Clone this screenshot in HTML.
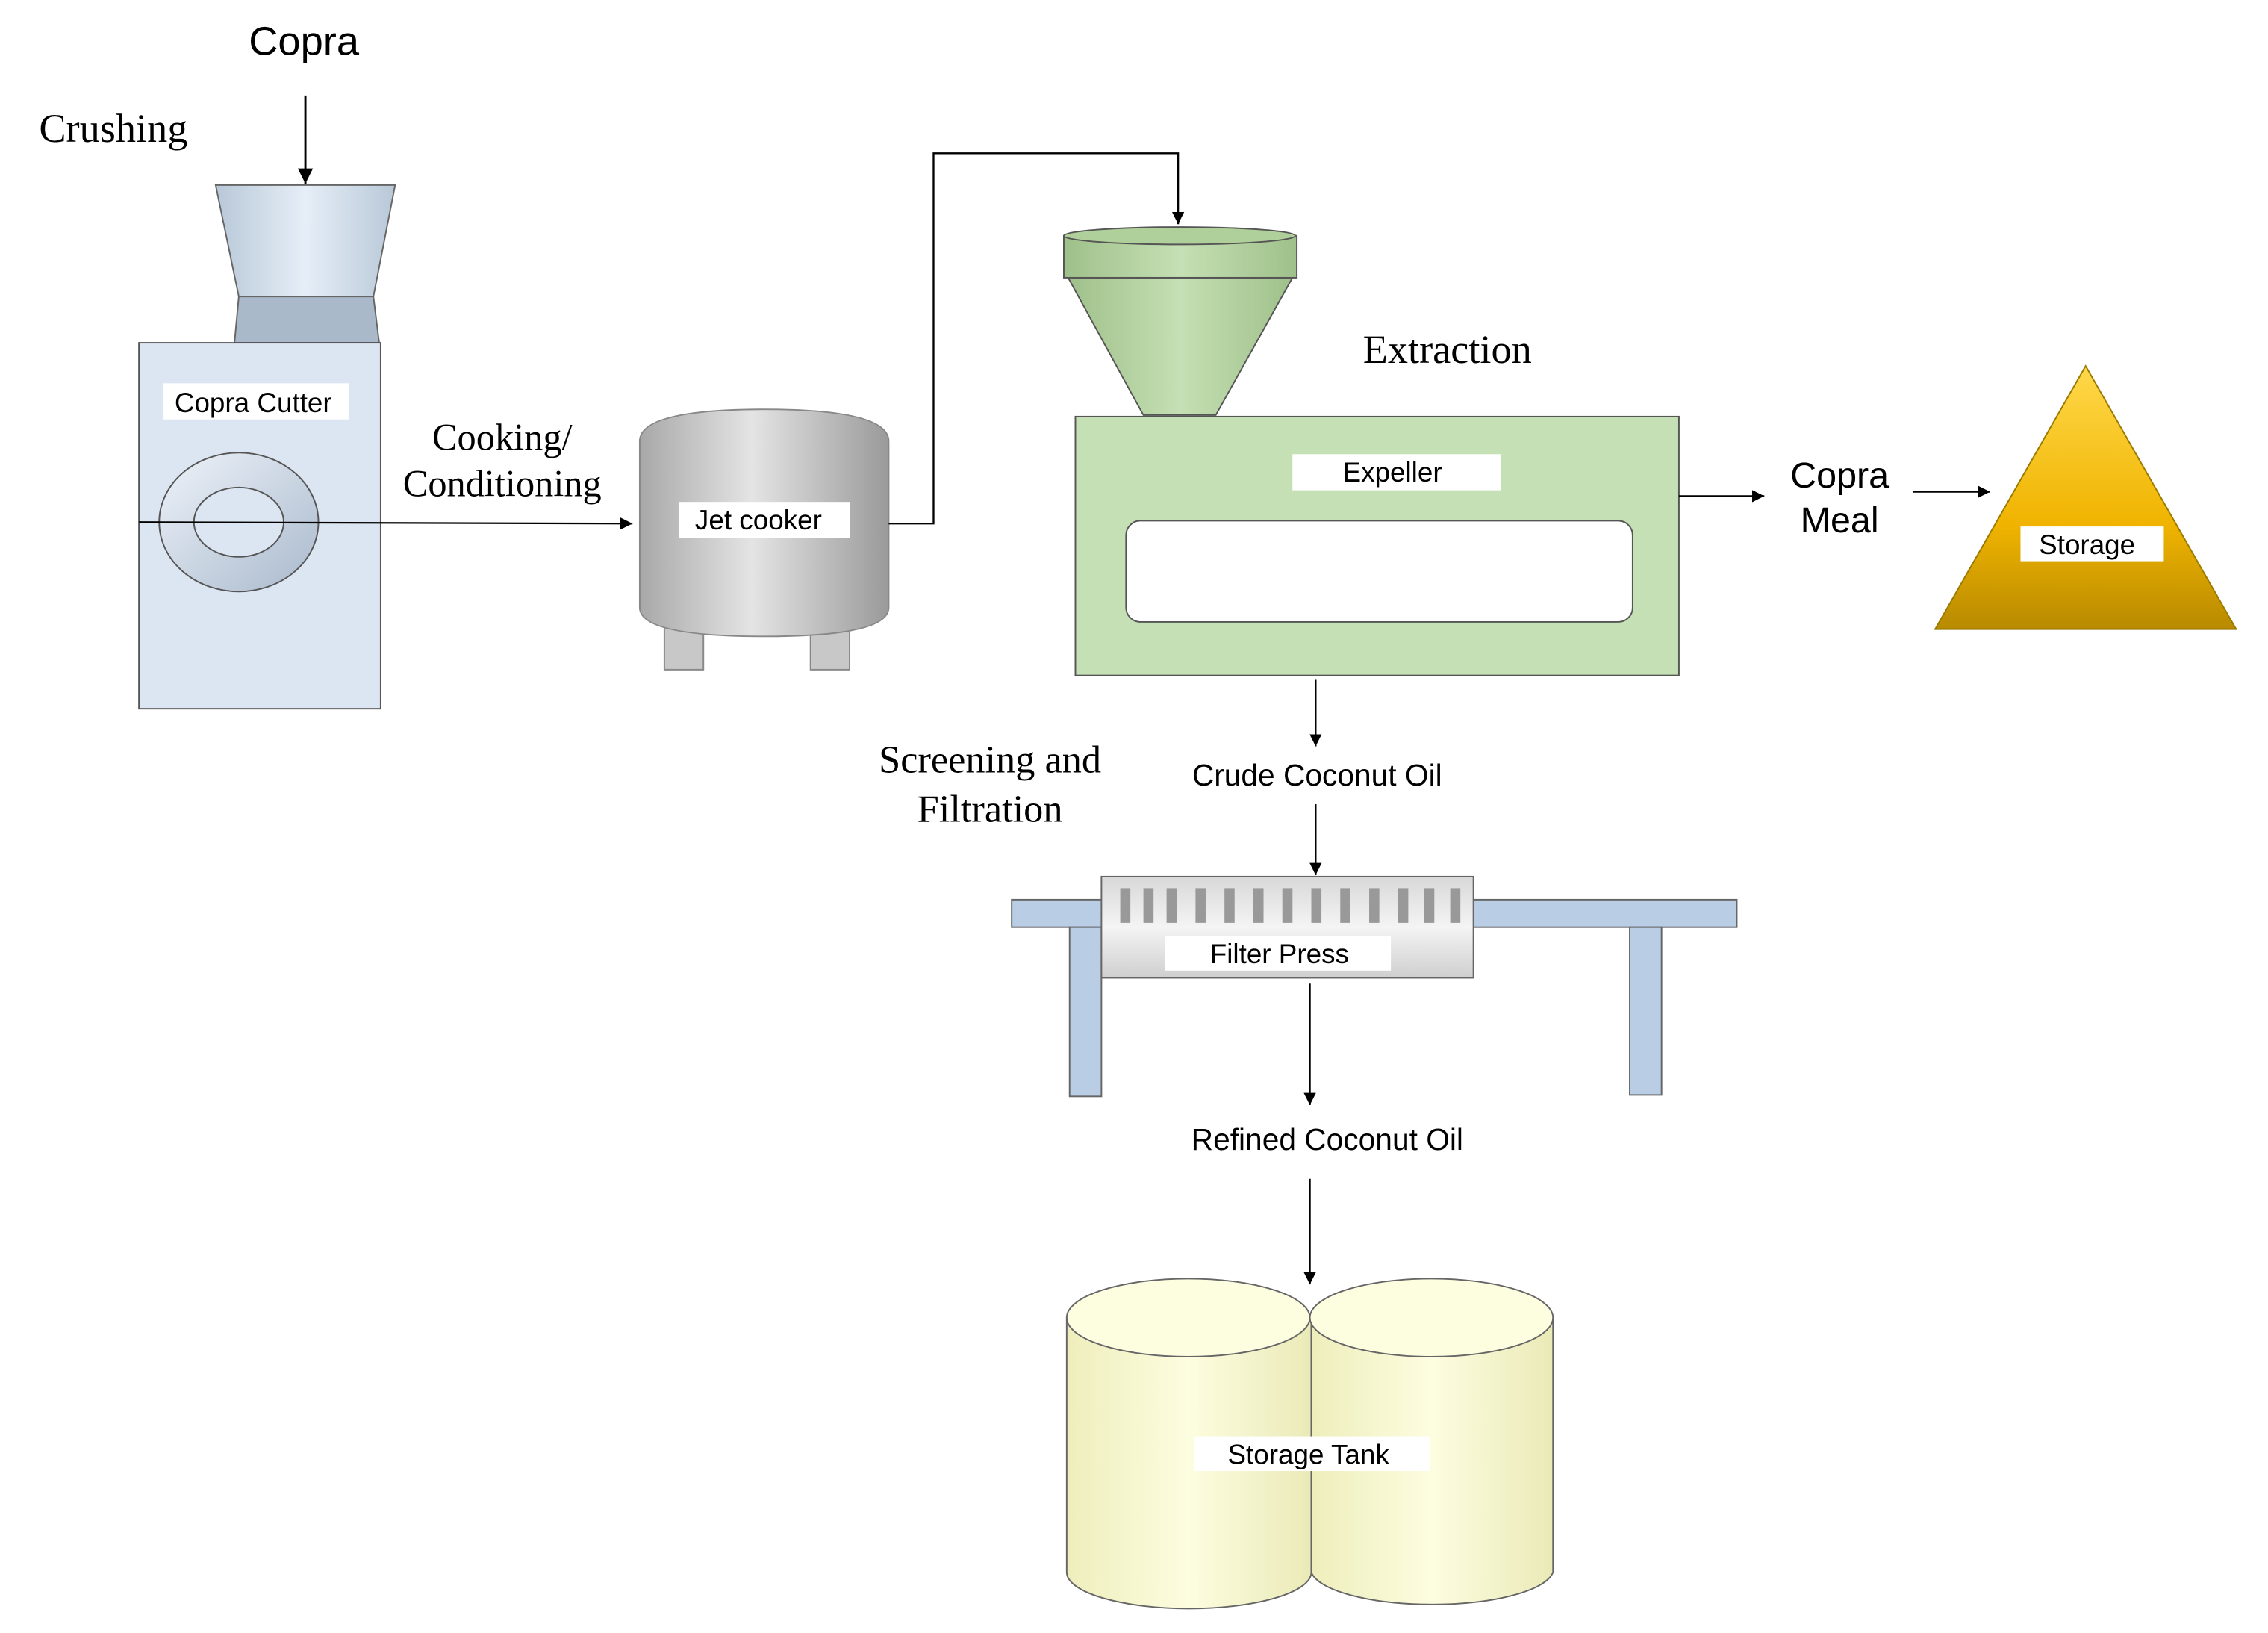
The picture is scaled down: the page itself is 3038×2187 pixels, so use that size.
<!DOCTYPE html>
<html><head><meta charset="utf-8"><style>html,body{margin:0;padding:0;background:#fff}svg{display:block}</style></head>
<body>
<svg width="3038" height="2187" viewBox="0 0 1567 1129" preserveAspectRatio="none" xmlns="http://www.w3.org/2000/svg">
<defs>
<marker id="ar" viewBox="0 0 10 10" refX="10" refY="5" markerWidth="7" markerHeight="7" orient="auto"><path d="M0,0L10,5L0,10z" fill="#000"/></marker>
<linearGradient id="hop" x1="0" y1="0" x2="1" y2="0"><stop offset="0" stop-color="#b8c8d8"/><stop offset="0.5" stop-color="#e6eef7"/><stop offset="1" stop-color="#b8c8d8"/></linearGradient>
<linearGradient id="gray" x1="0" y1="0" x2="1" y2="0"><stop offset="0" stop-color="#a8a8a8"/><stop offset="0.45" stop-color="#e4e4e4"/><stop offset="1" stop-color="#9a9a9a"/></linearGradient>
<linearGradient id="green" x1="0" y1="0" x2="1" y2="0"><stop offset="0" stop-color="#9fc08a"/><stop offset="0.5" stop-color="#c5e0b4"/><stop offset="1" stop-color="#9fc08a"/></linearGradient>
<linearGradient id="gold" x1="0" y1="0" x2="0" y2="1"><stop offset="0" stop-color="#ffd84a"/><stop offset="0.6" stop-color="#f0b400"/><stop offset="1" stop-color="#b88a00"/></linearGradient>
<linearGradient id="press" x1="0" y1="0" x2="0" y2="1"><stop offset="0" stop-color="#d8d8d8"/><stop offset="0.5" stop-color="#f4f4f4"/><stop offset="1" stop-color="#cfcfcf"/></linearGradient>
<linearGradient id="tank" x1="0" y1="0" x2="1" y2="0"><stop offset="0" stop-color="#eeeebc"/><stop offset="0.5" stop-color="#fdfde0"/><stop offset="1" stop-color="#eaeab8"/></linearGradient>
<linearGradient id="ring" x1="0" y1="0" x2="1" y2="1"><stop offset="0" stop-color="#eef3fa"/><stop offset="1" stop-color="#a9b9cc"/></linearGradient>
</defs>
<g font-family="Liberation Sans, Arial, sans-serif" fill="#000">
<text x="210" y="38" font-size="28" text-anchor="middle">Copra</text>
<line x1="211" y1="66" x2="211" y2="127" stroke="#000" stroke-width="1.5" marker-end="url(#ar)"/>
<text x="27" y="98" font-size="28" font-family="Liberation Serif, serif">Crushing</text>
<polygon points="149,128 273,128 258,205 165,205" fill="url(#hop)" stroke="#666"/>
<polygon points="165,205 258,205 262,237 162,237" fill="#a9b9c9" stroke="#666"/>
<rect x="96" y="237" width="167" height="253" fill="#dce6f2" stroke="#555"/>
<rect x="113" y="265" width="128" height="25" fill="#fff"/>
<text x="175" y="285" font-size="19" text-anchor="middle">Copra Cutter</text>
<ellipse cx="165" cy="361" rx="55" ry="48" fill="url(#ring)" stroke="#555"/>
<ellipse cx="165" cy="361" rx="31" ry="24" fill="#dce6f2" stroke="#555"/>
<line x1="96" y1="361" x2="437" y2="362" stroke="#000" stroke-width="1.2" marker-end="url(#ar)"/>
<text x="347" y="311" font-size="26" text-anchor="middle" font-family="Liberation Serif, serif">Cooking/</text>
<text x="347" y="343" font-size="26" text-anchor="middle" font-family="Liberation Serif, serif">Conditioning</text>
<rect x="459" y="425" width="27" height="38" fill="#c8c8c8" stroke="#888"/>
<rect x="560" y="425" width="27" height="38" fill="#c8c8c8" stroke="#888"/>
<path d="M442,305 Q442,283 528,283 Q614,283 614,305 L614,420 Q614,440 528,440 Q442,440 442,420 Z" fill="url(#gray)" stroke="#888"/>
<rect x="469" y="347" width="118" height="25" fill="#fff"/>
<text x="524" y="366" font-size="19" text-anchor="middle">Jet cooker</text>
<polyline points="614,362 645,362 645,106 814,106 814,155" fill="none" stroke="#000" stroke-width="1.2" marker-end="url(#ar)"/>
<polygon points="738,192 893,192 840,287 790,287" fill="url(#green)" stroke="#555"/>
<rect x="735" y="163" width="161" height="29" fill="url(#green)" stroke="#555"/>
<ellipse cx="815" cy="163" rx="80" ry="6" fill="#b0d09b" stroke="#555"/>
<rect x="743" y="288" width="417" height="179" fill="#c5e0b4" stroke="#555"/>
<rect x="893" y="314" width="144" height="25" fill="#fff"/>
<text x="962" y="333" font-size="19" text-anchor="middle">Expeller</text>
<rect x="778" y="360" width="350" height="70" rx="10" fill="#fff" stroke="#555"/>
<text x="1000" y="251" font-size="28" text-anchor="middle" font-family="Liberation Serif, serif">Extraction</text>
<line x1="1160" y1="343" x2="1219" y2="343" stroke="#000" stroke-width="1.2" marker-end="url(#ar)"/>
<text x="1271" y="337" font-size="25" text-anchor="middle">Copra</text>
<text x="1271" y="368" font-size="25" text-anchor="middle">Meal</text>
<line x1="1322" y1="340" x2="1375" y2="340" stroke="#000" stroke-width="1.2" marker-end="url(#ar)"/>
<polygon points="1441,253 1545,435 1337,435" fill="url(#gold)" stroke="#9a7a00"/>
<rect x="1396" y="364" width="99" height="24" fill="#fff"/>
<text x="1442" y="383" font-size="19" text-anchor="middle">Storage</text>
<line x1="909" y1="470" x2="909" y2="516" stroke="#000" stroke-width="1.2" marker-end="url(#ar)"/>
<text x="910" y="543" font-size="21" text-anchor="middle">Crude Coconut Oil</text>
<text x="684" y="534" font-size="27" text-anchor="middle" font-family="Liberation Serif, serif">Screening and</text>
<text x="684" y="568" font-size="27" text-anchor="middle" font-family="Liberation Serif, serif">Filtration</text>
<line x1="909" y1="556" x2="909" y2="605" stroke="#000" stroke-width="1.2" marker-end="url(#ar)"/>
<rect x="699" y="622" width="501" height="19" fill="#b9cde5" stroke="#666"/>
<rect x="739" y="641" width="22" height="117" fill="#b9cde5" stroke="#666"/>
<rect x="1126" y="641" width="22" height="116" fill="#b9cde5" stroke="#666"/>
<rect x="761" y="606" width="257" height="70" fill="url(#press)" stroke="#666"/>
<g fill="#999">
<rect x="774" y="614" width="7" height="24"/><rect x="790" y="614" width="7" height="24"/><rect x="806" y="614" width="7" height="24"/><rect x="826" y="614" width="7" height="24"/><rect x="846" y="614" width="7" height="24"/><rect x="866" y="614" width="7" height="24"/><rect x="886" y="614" width="7" height="24"/><rect x="906" y="614" width="7" height="24"/><rect x="926" y="614" width="7" height="24"/><rect x="946" y="614" width="7" height="24"/><rect x="966" y="614" width="7" height="24"/><rect x="984" y="614" width="7" height="24"/><rect x="1002" y="614" width="7" height="24"/>
</g>
<rect x="805" y="647" width="156" height="24" fill="#fff"/>
<text x="884" y="666" font-size="19" text-anchor="middle">Filter Press</text>
<line x1="905" y1="680" x2="905" y2="764" stroke="#000" stroke-width="1.2" marker-end="url(#ar)"/>
<text x="917" y="795" font-size="21" text-anchor="middle">Refined Coconut Oil</text>
<line x1="905" y1="815" x2="905" y2="888" stroke="#000" stroke-width="1.2" marker-end="url(#ar)"/>
<path d="M737,911 L737,1087 A84,25 0 0 0 906,1087 L906,911 Z" fill="url(#tank)" stroke="#666"/>
<ellipse cx="821" cy="911" rx="84" ry="27" fill="#fdfde0" stroke="#666"/>
<path d="M906,911 L906,1087 A84,25 0 0 0 1073,1087 L1073,911 Z" fill="url(#tank)" stroke="#666"/>
<ellipse cx="989" cy="911" rx="84" ry="27" fill="#fdfde0" stroke="#666"/>
<rect x="825" y="993" width="163" height="24" fill="#fff"/>
<text x="904" y="1012" font-size="19" text-anchor="middle">Storage Tank</text>
</g>
</svg>
</body></html>
